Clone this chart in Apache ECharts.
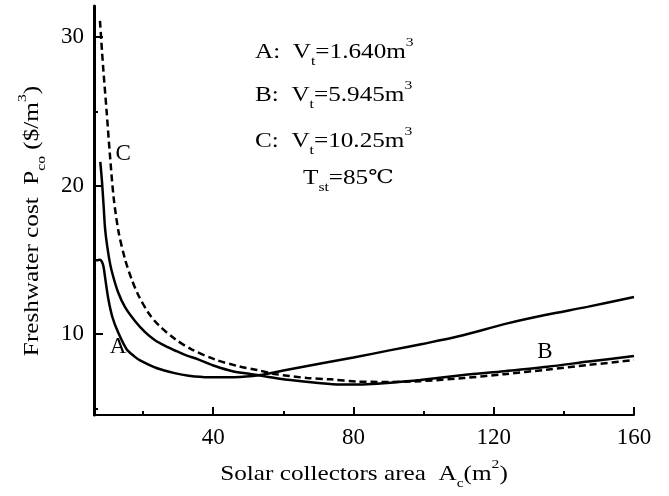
<!DOCTYPE html>
<html>
<head>
<meta charset="utf-8">
<script src="https://cdn.jsdelivr.net/npm/echarts@6/dist/echarts.min.js"></script>
<style>
  html, body { margin: 0; padding: 0; background: #fff; }
  #chart { width: 669px; height: 496px; }
</style>
</head>
<body>
<div id="chart"></div>
<script>
// Freshwater cost vs. solar collector area for three storage tank volumes (T_st = 85 °C)
const xMajorTicks = [40, 80, 120, 160];
const xMinorTicks = [20, 60, 100, 140];
const yMajorTicks = [10, 20, 30];
const yMinorTicks = [5, 15, 25];

// curve A: V_t = 1.640 m3  [area m2, cost $/m3]
const curveA = [
  [6.6, 14.95], [7.7, 15.0], [8.3, 14.85], [8.75, 14.5], [9.2, 13.75], [10.1, 12.35],
  [11.3, 11.1], [12.9, 10.1], [15.3, 8.98], [17.5, 8.5], [19, 8.25], [24, 7.7],
  [29, 7.37], [33, 7.2], [38.7, 7.1], [46, 7.1], [53.4, 7.24], [60, 7.55],
  [71.4, 8.05], [80, 8.42], [90.6, 8.92], [100, 9.35], [110, 9.85], [123.9, 10.72],
  [135, 11.3], [147, 11.85], [160, 12.5]
];
// curve B: V_t = 5.945 m3
const curveB = [
  [7.8, 21.6], [8.3, 20.2], [8.75, 18.6], [9.2, 17.0], [10.1, 15.4], [11.0, 14.3],
  [12.9, 12.8], [14.9, 11.8], [17.8, 10.85], [20.5, 10.15], [23.3, 9.6], [26.3, 9.2],
  [29.5, 8.85], [32.5, 8.55], [35.7, 8.3], [40.5, 7.85], [45.5, 7.5], [51, 7.3],
  [55, 7.15], [62, 6.9], [70, 6.7], [76.3, 6.6], [84, 6.62], [90.6, 6.72], [99, 6.9],
  [111.4, 7.24], [123, 7.5], [135.3, 7.8], [147, 8.15], [160, 8.52]
];
// curve C: V_t = 10.25 m3 (dashed)
const curveC = [
  [7.7, 31.1], [8.6, 28.0], [9.6, 25.0], [10.5, 22.2], [11.6, 19.2], [13.0, 16.9],
  [14.9, 15.0], [16.8, 13.65], [18.7, 12.6], [21.6, 11.4], [24.45, 10.6], [29.2, 9.65],
  [33.95, 8.96], [40.6, 8.28], [47.3, 7.83], [52.5, 7.58], [58, 7.3], [66.8, 7.04],
  [73.4, 6.95], [81, 6.8], [90, 6.78], [99, 6.83], [111.4, 7.04], [123, 7.3],
  [135, 7.6], [147, 7.92], [160, 8.25]
];

// curve tags placed in data space
const tagA = { text: 'A', at: [12.85, 9.12] };
const tagB = { text: 'B', at: [134.6, 8.8] };
const tagC = { text: 'C', at: [14.3, 22.15] };

const SERIF = '"Liberation Serif", "Times New Roman", serif';
const richStyles = {
  n: { fontFamily: SERIF, fontSize: 21, color: '#000', lineHeight: 32 },
  s: { fontFamily: SERIF, fontSize: 13, color: '#000', lineHeight: 12, verticalAlign: 'bottom' },
  p: { fontFamily: SERIF, fontSize: 13, color: '#000', lineHeight: 12, verticalAlign: 'top' },
  d: { fontFamily: '"DejaVu Serif", serif', fontSize: 19, color: '#000', lineHeight: 32 }
};
// serif lettering here is set a little wider than the font's natural width
const WIDE = 1.2;

const chart = echarts.init(document.getElementById('chart'), null, { renderer: 'canvas' });

function tagSeriesMark(tag) {
  return {
    symbol: 'circle', symbolSize: 0,
    data: [{ coord: tag.at, value: tag.text }],
    label: {
      show: true, position: 'inside', formatter: tag.text,
      fontFamily: SERIF, fontSize: 23, color: '#000'
    }
  };
}

const lineBase = {
  type: 'line', showSymbol: false, symbol: 'none',
  smooth: 0.3, animation: false,
  xAxisIndex: 0, yAxisIndex: 0
};

chart.setOption({
  animation: false,
  backgroundColor: '#fff',
  grid: { left: 94, right: 35, top: 6, bottom: 81, containLabel: false },
  xAxis: [
    {
      type: 'value', min: 6, max: 160, position: 'bottom',
      axisLine: { show: true, onZero: false, lineStyle: { color: '#000', width: 2 } },
      axisTick: { show: true, inside: true, length: 8, customValues: xMajorTicks,
        lineStyle: { color: '#000', width: 2 } },
      axisLabel: { show: true, customValues: xMajorTicks, margin: 11,
        fontFamily: SERIF, fontSize: 23, color: '#000' },
      splitLine: { show: false }
    },
    {
      type: 'value', min: 6, max: 160, position: 'bottom',
      axisLine: { show: false },
      axisTick: { show: true, inside: true, length: 4, customValues: xMinorTicks,
        lineStyle: { color: '#000', width: 2 } },
      axisLabel: { show: false },
      splitLine: { show: false }
    }
  ],
  yAxis: [
    {
      type: 'value', min: 4.55, max: 32.1, position: 'left',
      axisLine: { show: true, onZero: false, lineStyle: { color: '#000', width: 3 } },
      axisTick: { show: true, inside: true, length: 9, customValues: yMajorTicks,
        lineStyle: { color: '#000', width: 2 } },
      axisLabel: { show: true, customValues: yMajorTicks, margin: 10,
        fontFamily: SERIF, fontSize: 23, color: '#000' },
      splitLine: { show: false }
    },
    {
      type: 'value', min: 4.55, max: 32.1, position: 'left',
      axisLine: { show: false },
      axisTick: { show: true, inside: true, length: 4, customValues: yMinorTicks,
        lineStyle: { color: '#000', width: 2 } },
      axisLabel: { show: false },
      splitLine: { show: false }
    }
  ],
  series: [
    Object.assign({}, lineBase, {
      name: 'A', data: curveA,
      lineStyle: { color: '#000', width: 2.5, type: 'solid' },
      markPoint: tagSeriesMark(tagA)
    }),
    Object.assign({}, lineBase, {
      name: 'B', data: curveB,
      lineStyle: { color: '#000', width: 2.5, type: 'solid' },
      markPoint: tagSeriesMark(tagB)
    }),
    Object.assign({}, lineBase, {
      name: 'C', data: curveC,
      lineStyle: { color: '#000', width: 2.5, type: [7, 4] },
      markPoint: tagSeriesMark(tagC)
    })
  ],
  graphic: [
    {
      type: 'text', x: 255, y: 36, scaleX: WIDE,
      style: { text: '{n|A:  V}{s|t}{n|=1.640m}{p|3}', rich: richStyles }
    },
    {
      type: 'text', x: 255, y: 79, scaleX: WIDE,
      style: { text: '{n|B:  V}{s|t}{n|=5.945m}{p|3}', rich: richStyles }
    },
    {
      type: 'text', x: 255, y: 125, scaleX: WIDE,
      style: { text: '{n|C:  V}{s|t}{n|=10.25m}{p|3}', rich: richStyles }
    },
    {
      type: 'text', x: 303, y: 162, scaleX: WIDE,
      style: { text: '{n|T}{s|st}{n|=85}{d|℃}', rich: richStyles }
    },
    {
      type: 'text', x: 364, y: 474, scaleX: WIDE,
      style: { text: '{n|Solar collectors area  A}{s|c}{n|(m}{p|2}{n|)}', rich: richStyles,
        align: 'center', verticalAlign: 'middle' }
    },
    {
      type: 'text', x: 32, y: 221, rotation: Math.PI / 2, scaleX: WIDE,
      style: { text: '{n|Freshwater cost  P}{s|co}{n| ($/m}{p|3}{n|)}', rich: richStyles,
        align: 'center', verticalAlign: 'middle' }
    }
  ]
});
</script>
</body>
</html>
